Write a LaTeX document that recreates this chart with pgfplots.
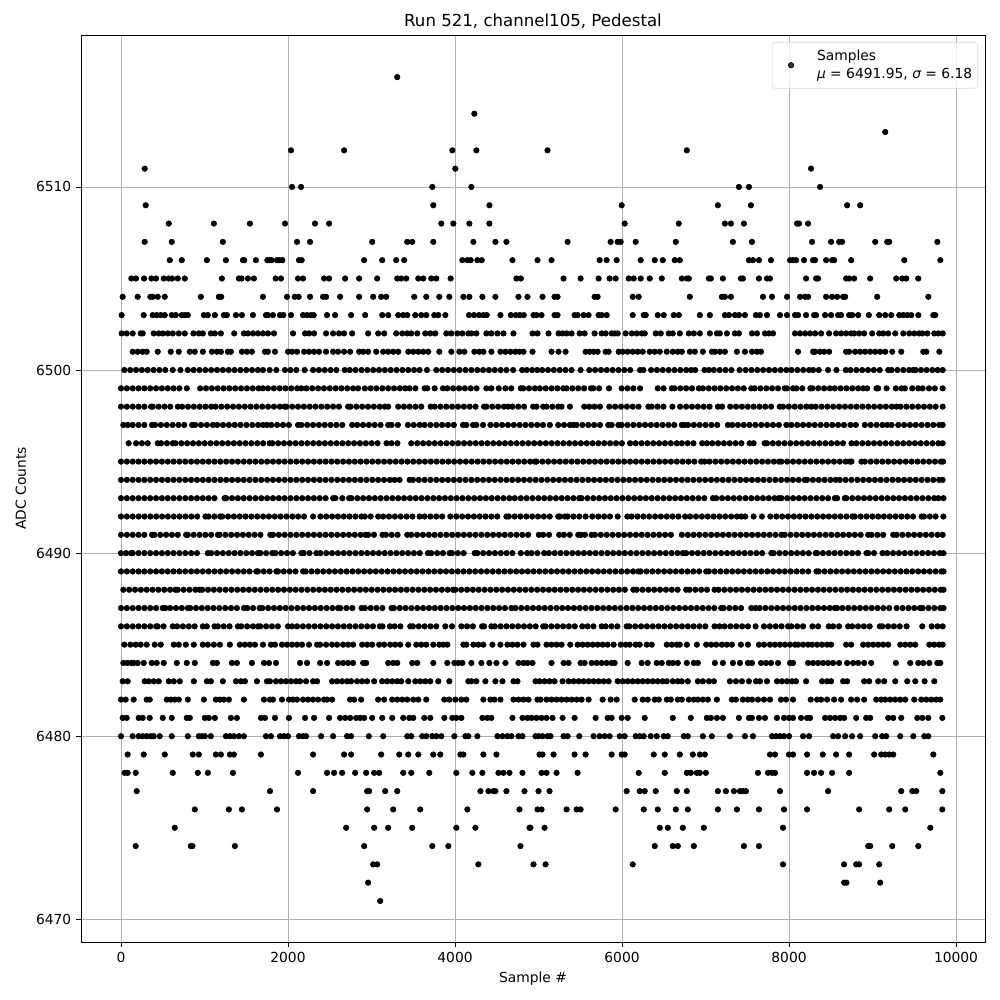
\documentclass[border=0pt]{standalone}
\usepackage{pgfplots}
\pgfplotsset{compat=1.18}
\usepackage{fontspec}
\setmainfont{DejaVu Sans}
\begin{document}
\begin{tikzpicture}
\path[use as bounding box] (-58.32bp,-41.76bp) rectangle (661.68bp,678.24bp);
\begin{axis}[
  at={(0,0)},anchor=south west,scale only axis,width=650.88bp,height=653.04bp,
  xmin=-479,xmax=10347,ymin=6468.76,ymax=6518.3,
  xtick={0,2000,4000,6000,8000,10000},ytick={6470,6480,6490,6500,6510},
  scaled x ticks=false,scaled y ticks=false,
  /pgf/number format/1000 sep={},/pgf/number format/assume math mode=true,
  tick align=outside,tick pos=lower,major tick length=3.5bp,
  tick style={black,line width=0.6bp},axis line style={line width=0.6bp},
  grid=major,grid style={color=black!31,line width=0.6bp},
  tick label style={font=\fontsize{10}{12}\selectfont},
  label style={font=\fontsize{10}{12}\selectfont},
  title style={font=\fontsize{12}{14}\selectfont,yshift=-5bp},
  title={Run 521, channel105, Pedestal},
  xlabel={Sample \#},ylabel={ADC Counts},
  xlabel style={yshift=0bp},ylabel style={yshift=0.4bp},
  legend cell align=left,
  legend image code/.code={\fill[black] (11.5bp,0) circle (2bp);\path (0,0) (28bp,0);},
  legend style={at={(0.9923,0.9923)},anchor=north east,draw=black!15,fill=white,fill opacity=0.8,text opacity=1,rounded corners=2bp,font=\fontsize{10}{12}\selectfont,inner xsep=2bp,inner ysep=3.8bp},
]
\addplot[only marks,mark=*,mark size=2bp,mark options={fill=black,draw=none}] table[x index=0,y index=1] {
3308 6516
4232 6514
9152 6513
2036 6512
2672 6512
3968 6512
4256 6512
5108 6512
6776 6512
284 6511
4004 6511
8264 6511
2048 6510
2156 6510
3728 6510
4196 6510
7400 6510
7520 6510
8372 6510
296 6509
3740 6509
4412 6509
5996 6509
7148 6509
7544 6509
8696 6509
8852 6509
572 6508
1112 6508
1544 6508
1964 6508
2324 6508
2492 6508
3836 6508
3980 6508
4172 6508
4412 6508
6032 6508
6680 6508
7232 6508
7304 6508
7460 6508
8096 6508
8120 6508
8228 6508
284 6507
608 6507
1220 6507
2108 6507
2264 6507
3008 6507
3428 6507
3488 6507
3740 6507
4220 6507
4484 6507
4616 6507
5348 6507
5864 6507
5948 6507
5984 6507
6164 6507
6644 6507
7328 6507
7556 6507
8276 6507
8504 6507
8600 6507
8636 6507
9032 6507
9176 6507
9200 6507
9776 6507
584 6506
728 6506
1028 6506
1256 6506
1460 6506
1476 6506
1616 6506
1752 6506
1780 6506
1804 6506
1868 6506
1900 6506
1932 6506
2132 6506
2164 6506
2912 6506
3128 6506
3296 6506
3392 6506
4088 6506
4148 6506
4188 6506
4268 6506
4320 6506
4688 6506
4988 6506
5156 6506
5732 6506
5816 6506
5936 6506
6224 6506
6392 6506
6488 6506
6632 6506
6692 6506
7520 6506
7568 6506
7640 6506
7784 6506
8012 6506
8048 6506
8084 6506
8180 6506
8288 6506
8312 6506
8444 6506
8516 6506
8540 6506
8744 6506
9380 6506
9812 6506
124 6505
180 6505
276 6505
364 6505
420 6505
512 6505
572 6505
612 6505
680 6505
764 6505
1208 6505
1412 6505
1444 6505
1520 6505
1592 6505
1852 6505
1916 6505
2120 6505
2180 6505
2432 6505
2492 6505
2684 6505
2852 6505
3068 6505
3308 6505
3356 6505
3416 6505
3560 6505
3620 6505
3716 6505
3776 6505
3948 6505
4736 6505
4788 6505
5300 6505
5504 6505
5720 6505
5852 6505
5924 6505
6080 6505
6140 6505
6224 6505
6332 6505
6476 6505
6716 6505
6776 6505
6800 6505
7040 6505
7064 6505
7208 6505
7424 6505
7448 6505
7640 6505
7736 6505
7772 6505
8204 6505
8324 6505
8348 6505
8684 6505
8720 6505
8780 6505
8972 6505
9284 6505
9356 6505
9404 6505
9548 6505
20 6504
200 6504
352 6504
380 6504
440 6504
524 6504
956 6504
1172 6504
1200 6504
1700 6504
1988 6504
2080 6504
2128 6504
2264 6504
2420 6504
2456 6504
2624 6504
2852 6504
3020 6504
3116 6504
3176 6504
3512 6504
3656 6504
3812 6504
3932 6504
4100 6504
4172 6504
4328 6504
4484 6504
4760 6504
4868 6504
5048 6504
5192 6504
5228 6504
5672 6504
5708 6504
6128 6504
6200 6504
6812 6504
7196 6504
7232 6504
7304 6504
7688 6504
7796 6504
7976 6504
8132 6504
8192 6504
8228 6504
8444 6504
8516 6504
8576 6504
8648 6504
8672 6504
9056 6504
9668 6504
8 6503
272 6503
380 6503
428 6503
476 6503
524 6503
608 6503
656 6503
728 6503
764 6503
800 6503
992 6503
1040 6503
1124 6503
1232 6503
1268 6503
1376 6503
1448 6503
1580 6503
1736 6503
1760 6503
1820 6503
1904 6503
1944 6503
2036 6503
2180 6503
2228 6503
2276 6503
2308 6503
2468 6503
2564 6503
2756 6503
2924 6503
3128 6503
3200 6503
3320 6503
3380 6503
3428 6503
3524 6503
3596 6503
3656 6503
3752 6503
3800 6503
3884 6503
4168 6503
4228 6503
4288 6503
4340 6503
4380 6503
4544 6503
4668 6503
4728 6503
4776 6503
4824 6503
4940 6503
4976 6503
5036 6503
5192 6503
5228 6503
5432 6503
5468 6503
5540 6503
5600 6503
5720 6503
5756 6503
5816 6503
6128 6503
6260 6503
6284 6503
6428 6503
6500 6503
6620 6503
6680 6503
6932 6503
7052 6503
7232 6503
7280 6503
7352 6503
7400 6503
7472 6503
7604 6503
7652 6503
7736 6503
7892 6503
7976 6503
8072 6503
8108 6503
8204 6503
8300 6503
8324 6503
8432 6503
8504 6503
8588 6503
8624 6503
8720 6503
8756 6503
8828 6503
8956 6503
9080 6503
9152 6503
9224 6503
9320 6503
9368 6503
9416 6503
9464 6503
9548 6503
9728 6503
9752 6503
8 6502
68 6502
140 6502
236 6502
260 6502
392 6502
452 6502
500 6502
560 6502
620 6502
692 6502
764 6502
868 6502
932 6502
980 6502
1076 6502
1124 6502
1196 6502
1356 6502
1472 6502
1520 6502
1580 6502
1640 6502
1700 6502
1760 6502
1832 6502
2060 6502
2204 6502
2252 6502
2312 6502
2456 6502
2540 6502
2612 6502
2672 6502
2768 6502
2960 6502
3080 6502
3152 6502
3296 6502
3368 6502
3428 6502
3476 6502
3548 6502
3644 6502
3704 6502
3764 6502
3896 6502
3956 6502
4028 6502
4088 6502
4160 6502
4196 6502
4256 6502
4376 6502
4436 6502
4508 6502
4580 6502
4700 6502
4928 6502
4988 6502
5120 6502
5240 6502
5288 6502
5336 6502
5396 6502
5492 6502
5552 6502
5672 6502
5756 6502
5804 6502
5876 6502
5912 6502
5948 6502
6044 6502
6116 6502
6176 6502
6236 6502
6272 6502
6404 6502
6464 6502
6560 6502
6608 6502
6692 6502
6800 6502
6860 6502
6932 6502
7052 6502
7136 6502
7172 6502
7256 6502
7352 6502
7400 6502
7556 6502
7616 6502
7712 6502
7760 6502
7808 6502
8072 6502
8132 6502
8192 6502
8252 6502
8312 6502
8384 6502
8480 6502
8564 6502
8624 6502
8684 6502
8744 6502
8780 6502
8840 6502
8900 6502
8996 6502
9080 6502
9128 6502
9188 6502
9272 6502
9368 6502
9440 6502
9500 6502
9560 6502
9596 6502
9656 6502
9740 6502
9788 6502
9840 6502
140 6501
200 6501
260 6501
308 6501
440 6501
596 6501
692 6501
824 6501
884 6501
980 6501
1088 6501
1148 6501
1196 6501
1280 6501
1316 6501
1448 6501
1508 6501
1568 6501
1724 6501
1760 6501
1844 6501
2000 6501
2048 6501
2108 6501
2192 6501
2252 6501
2312 6501
2372 6501
2456 6501
2540 6501
2600 6501
2672 6501
2744 6501
2852 6501
2900 6501
2960 6501
3056 6501
3140 6501
3200 6501
3260 6501
3320 6501
3440 6501
3500 6501
3560 6501
3620 6501
3680 6501
3812 6501
3956 6501
4052 6501
4112 6501
4232 6501
4292 6501
4340 6501
4436 6501
4544 6501
4604 6501
4664 6501
4724 6501
4772 6501
4820 6501
4928 6501
5156 6501
5240 6501
5324 6501
5564 6501
5612 6501
5660 6501
5708 6501
5804 6501
5840 6501
5960 6501
6008 6501
6068 6501
6128 6501
6188 6501
6248 6501
6332 6501
6392 6501
6452 6501
6536 6501
6608 6501
6668 6501
6716 6501
6812 6501
6872 6501
6968 6501
7076 6501
7112 6501
7172 6501
7232 6501
7376 6501
7472 6501
7556 6501
7616 6501
7664 6501
8108 6501
8288 6501
8312 6501
8372 6501
8420 6501
8480 6501
8684 6501
8720 6501
8792 6501
8852 6501
8912 6501
8972 6501
9032 6501
9092 6501
9152 6501
9236 6501
9344 6501
9608 6501
9644 6501
9800 6501
3104 6471
2960 6472
8660 6472
8688 6472
9092 6472
3020 6473
3068 6473
4280 6473
4940 6473
5084 6473
6128 6473
7928 6473
8660 6473
8804 6473
8840 6473
9080 6473
176 6474
836 6474
856 6474
1364 6474
2912 6474
3728 6474
3920 6474
4784 6474
6392 6474
6608 6474
6668 6474
6860 6474
7460 6474
7640 6474
8948 6474
8972 6474
9236 6474
9548 6474
644 6475
2696 6475
3032 6475
3200 6475
3488 6475
4016 6475
4244 6475
4892 6475
4904 6475
5072 6475
6452 6475
6548 6475
6728 6475
6980 6475
7928 6475
9692 6475
884 6476
1292 6476
1448 6476
1868 6476
2948 6476
3260 6476
3584 6476
4148 6476
4772 6476
4988 6476
5036 6476
5336 6476
5456 6476
5504 6476
5924 6476
6260 6476
6428 6476
6644 6476
6788 6476
7148 6476
7376 6476
7640 6476
7940 6476
8216 6476
8840 6476
9200 6476
9392 6476
9836 6476
188 6477
1784 6477
2300 6477
2948 6477
2972 6477
3164 6477
3308 6477
4304 6477
4400 6477
4460 6477
4484 6477
4616 6477
4832 6477
5000 6477
5132 6477
6056 6477
6212 6477
6272 6477
6404 6477
6656 6477
6776 6477
7148 6477
7244 6477
7340 6477
7412 6477
7448 6477
7484 6477
7892 6477
8468 6477
9344 6477
9476 6477
9524 6477
9836 6477
44 6478
80 6478
176 6478
620 6478
920 6478
1040 6478
1340 6478
2120 6478
2468 6478
2552 6478
2648 6478
2804 6478
2936 6478
3032 6478
3092 6478
3380 6478
3476 6478
3692 6478
4016 6478
4208 6478
4328 6478
4520 6478
4580 6478
4652 6478
4808 6478
5036 6478
5096 6478
5216 6478
5468 6478
6200 6478
6512 6478
6776 6478
6824 6478
6896 6478
6932 6478
7004 6478
7628 6478
7748 6478
7796 6478
7832 6478
8216 6478
8300 6478
8384 6478
8516 6478
8720 6478
9812 6478
80 6479
272 6479
524 6479
860 6479
932 6479
1136 6479
1196 6479
1304 6479
1352 6479
1676 6479
2300 6479
2672 6479
2756 6479
3116 6479
3332 6479
3440 6479
3560 6479
3740 6479
3824 6479
4064 6479
4100 6479
4340 6479
4496 6479
5012 6479
5048 6479
5180 6479
5432 6479
5564 6479
5876 6479
5996 6479
6032 6479
6380 6479
6512 6479
6692 6479
6848 6479
6932 6479
6992 6479
7772 6479
7832 6479
8000 6479
8048 6479
8216 6479
8404 6479
8564 6479
8720 6479
9020 6479
9104 6479
9152 6479
9200 6479
9248 6479
9728 6479
0 6480
140 6480
212 6480
260 6480
308 6480
356 6480
392 6480
464 6480
608 6480
800 6480
932 6480
968 6480
1004 6480
1076 6480
1256 6480
1304 6480
1352 6480
1412 6480
1472 6480
1736 6480
1796 6480
1904 6480
1952 6480
2000 6480
2132 6480
2180 6480
2216 6480
2396 6480
2540 6480
2708 6480
2756 6480
2968 6480
3140 6480
3428 6480
3476 6480
3608 6480
3656 6480
3728 6480
3776 6480
3836 6480
3992 6480
4124 6480
4160 6480
4268 6480
4508 6480
4568 6480
4628 6480
4676 6480
4760 6480
4808 6480
4964 6480
5000 6480
5048 6480
5108 6480
5144 6480
5300 6480
5348 6480
5488 6480
5660 6480
5732 6480
5792 6480
5852 6480
5972 6480
6032 6480
6164 6480
6212 6480
6260 6480
6344 6480
6416 6480
6500 6480
6548 6480
6740 6480
6788 6480
6968 6480
7076 6480
7292 6480
7472 6480
7568 6480
7796 6480
7844 6480
7892 6480
7940 6480
8000 6480
8168 6480
8240 6480
8528 6480
8588 6480
8672 6480
8756 6480
8852 6480
9032 6480
9116 6480
9164 6480
9332 6480
9488 6480
9620 6480
9668 6480
20 6481
68 6481
212 6481
260 6481
344 6481
500 6481
608 6481
788 6481
824 6481
1004 6481
1052 6481
1124 6481
1316 6481
1388 6481
1676 6481
1724 6481
1844 6481
2012 6481
2204 6481
2312 6481
2492 6481
2624 6481
2684 6481
2744 6481
2816 6481
2864 6481
2912 6481
3008 6481
3128 6481
3248 6481
3380 6481
3452 6481
3500 6481
3632 6481
3704 6481
3872 6481
3968 6481
4016 6481
4076 6481
4328 6481
4388 6481
4436 6481
4688 6481
4808 6481
4868 6481
4916 6481
4976 6481
5036 6481
5096 6481
5168 6481
5288 6481
5432 6481
5684 6481
5828 6481
5876 6481
5996 6481
6068 6481
6272 6481
6608 6481
6824 6481
7016 6481
7064 6481
7136 6481
7208 6481
7400 6481
7520 6481
7556 6481
7640 6481
7712 6481
7856 6481
7940 6481
8000 6481
8048 6481
8144 6481
8216 6481
8252 6481
8432 6481
8492 6481
8552 6481
8612 6481
8660 6481
8804 6481
8924 6481
8972 6481
9188 6481
9248 6481
9344 6481
9536 6481
9596 6481
9668 6481
9836 6481
0 6482
56 6482
152 6482
308 6482
344 6482
548 6482
596 6482
644 6482
692 6482
800 6482
992 6482
1136 6482
1184 6482
1232 6482
1292 6482
1472 6482
1712 6482
1784 6482
1820 6482
1928 6482
2012 6482
2060 6482
2108 6482
2180 6482
2240 6482
2300 6482
2360 6482
2432 6482
2468 6482
2528 6482
2744 6482
2792 6482
2876 6482
3080 6482
3152 6482
3248 6482
3308 6482
3368 6482
3428 6482
3500 6482
3560 6482
3656 6482
3872 6482
3932 6482
4004 6482
4076 6482
4136 6482
4340 6482
4424 6482
4472 6482
4544 6482
4700 6482
4760 6482
4820 6482
4880 6482
4988 6482
5024 6482
5096 6482
5156 6482
5216 6482
5276 6482
5336 6482
5396 6482
5456 6482
5516 6482
5600 6482
5768 6482
5864 6482
5936 6482
6152 6482
6248 6482
6308 6482
6392 6482
6440 6482
6536 6482
6584 6482
6668 6482
6716 6482
6800 6482
6860 6482
6908 6482
6968 6482
7028 6482
7136 6482
7316 6482
7364 6482
7448 6482
7508 6482
7556 6482
7628 6482
7700 6482
7772 6482
7904 6482
7964 6482
8048 6482
8260 6482
8336 6482
8384 6482
8456 6482
8540 6482
8624 6482
8744 6482
8816 6482
8900 6482
9044 6482
9104 6482
9152 6482
9212 6482
9272 6482
9332 6482
9392 6482
9500 6482
9584 6482
9644 6482
9704 6482
9764 6482
9812 6482
20 6483
80 6483
284 6483
332 6483
392 6483
452 6483
572 6483
632 6483
704 6483
872 6483
1028 6483
1076 6483
1220 6483
1376 6483
1436 6483
1484 6483
1628 6483
1748 6483
1784 6483
1856 6483
1916 6483
1976 6483
2036 6483
2096 6483
2144 6483
2216 6483
2300 6483
2348 6483
2528 6483
2588 6483
2648 6483
2708 6483
2756 6483
2828 6483
2888 6483
2948 6483
3032 6483
3128 6483
3188 6483
3248 6483
3308 6483
3356 6483
3440 6483
3524 6483
3584 6483
3644 6483
3704 6483
3800 6483
3932 6483
4160 6483
4196 6483
4256 6483
4364 6483
4484 6483
4568 6483
4700 6483
4748 6483
4964 6483
5012 6483
5072 6483
5132 6483
5192 6483
5288 6483
5360 6483
5420 6483
5480 6483
5540 6483
5600 6483
5660 6483
5720 6483
5780 6483
5840 6483
5948 6483
6008 6483
6068 6483
6128 6483
6188 6483
6248 6483
6308 6483
6368 6483
6428 6483
6488 6483
6536 6483
6608 6483
6668 6483
6716 6483
6788 6483
6908 6483
6968 6483
7040 6483
7100 6483
7292 6483
7364 6483
7436 6483
7520 6483
7604 6483
7652 6483
7736 6483
7856 6483
7916 6483
7976 6483
8036 6483
8084 6483
8204 6483
8396 6483
8456 6483
8504 6483
8648 6483
8696 6483
8900 6483
8960 6483
9068 6483
9140 6483
9272 6483
9416 6483
9512 6483
9624 6483
9740 6483
28 6484
76 6484
124 6484
152 6484
200 6484
272 6484
368 6484
428 6484
512 6484
668 6484
788 6484
884 6484
1100 6484
1148 6484
1328 6484
1388 6484
1568 6484
1712 6484
1772 6484
1856 6484
2144 6484
2228 6484
2384 6484
2468 6484
2600 6484
2660 6484
2720 6484
2780 6484
2900 6484
2936 6484
3200 6484
3260 6484
3308 6484
3488 6484
3548 6484
3740 6484
3908 6484
3992 6484
4040 6484
4088 6484
4196 6484
4316 6484
4412 6484
4496 6484
4604 6484
4760 6484
4820 6484
4868 6484
4928 6484
5156 6484
5300 6484
5360 6484
5504 6484
5552 6484
5636 6484
5696 6484
5756 6484
5816 6484
5876 6484
5912 6484
6068 6484
6236 6484
6308 6484
6416 6484
6476 6484
6560 6484
6608 6484
6668 6484
6776 6484
6860 6484
6908 6484
7112 6484
7208 6484
7328 6484
7412 6484
7508 6484
7556 6484
7664 6484
7724 6484
7784 6484
7868 6484
8012 6484
8048 6484
8228 6484
8288 6484
8348 6484
8408 6484
8468 6484
8528 6484
8600 6484
8696 6484
8768 6484
8828 6484
8900 6484
8984 6484
9280 6484
9452 6484
9548 6484
9608 6484
9680 6484
9776 6484
9812 6484
40 6485
112 6485
176 6485
236 6485
308 6485
404 6485
476 6485
632 6485
692 6485
776 6485
872 6485
980 6485
1040 6485
1112 6485
1184 6485
1304 6485
1424 6485
1484 6485
1544 6485
1604 6485
1700 6485
1796 6485
1844 6485
1928 6485
1988 6485
2048 6485
2108 6485
2168 6485
2252 6485
2348 6485
2384 6485
2456 6485
2528 6485
2588 6485
2660 6485
2720 6485
2780 6485
2888 6485
2948 6485
3008 6485
3092 6485
3152 6485
3224 6485
3284 6485
3344 6485
3440 6485
3536 6485
3596 6485
3656 6485
3740 6485
3812 6485
3860 6485
3908 6485
4100 6485
4136 6485
4220 6485
4280 6485
4340 6485
4448 6485
4544 6485
4628 6485
4688 6485
4748 6485
4820 6485
4940 6485
4988 6485
5096 6485
5156 6485
5216 6485
5276 6485
5380 6485
5468 6485
5528 6485
5588 6485
5648 6485
5708 6485
5768 6485
5828 6485
5900 6485
5984 6485
6044 6485
6092 6485
6164 6485
6212 6485
6296 6485
6356 6485
6536 6485
6596 6485
6656 6485
6692 6485
6776 6485
6896 6485
7008 6485
7068 6485
7128 6485
7196 6485
7256 6485
7316 6485
7424 6485
7508 6485
7640 6485
7700 6485
7772 6485
7832 6485
7892 6485
7952 6485
8012 6485
8072 6485
8108 6485
8168 6485
8228 6485
8276 6485
8336 6485
8396 6485
8456 6485
8504 6485
8684 6485
8744 6485
8888 6485
8948 6485
9008 6485
9068 6485
9128 6485
9188 6485
9332 6485
9392 6485
9452 6485
9512 6485
9680 6485
9740 6485
9800 6485
9840 6485
40 6500
110 6500
180 6500
250 6500
320 6500
390 6500
460 6500
530 6500
620 6500
712 6500
800 6500
870 6500
940 6500
1010 6500
1080 6500
1150 6500
1220 6500
1290 6500
1360 6500
1430 6500
1500 6500
1570 6500
1640 6500
1700 6500
1780 6500
1860 6500
1964 6500
2030 6500
2100 6500
2200 6500
2300 6500
2370 6500
2440 6500
2510 6500
2580 6500
2680 6500
2740 6500
2810 6500
2880 6500
2950 6500
3020 6500
3090 6500
3160 6500
3230 6500
3300 6500
3370 6500
3440 6500
3510 6500
3576 6500
3664 6500
3776 6500
3846 6500
3916 6500
3986 6500
4056 6500
4126 6500
4196 6500
4266 6500
4336 6500
4406 6500
4476 6500
4546 6500
4616 6500
4696 6500
4804 6500
4860 6500
4924 6500
4984 6500
5044 6500
5114 6500
5184 6500
5254 6500
5324 6500
5396 6500
5504 6500
5608 6500
5678 6500
5748 6500
5818 6500
5888 6500
5958 6500
6028 6500
6098 6500
6216 6500
6256 6500
6348 6500
6418 6500
6488 6500
6558 6500
6628 6500
6698 6500
6768 6500
6828 6500
6876 6500
6988 6500
7040 6500
7100 6500
7170 6500
7240 6500
7310 6500
7408 6500
7480 6500
7550 6500
7620 6500
7690 6500
7760 6500
7830 6500
7900 6500
7968 6500
8030 6500
8100 6500
8170 6500
8240 6500
8288 6500
8356 6500
8468 6500
8568 6500
8680 6500
8736 6500
8806 6500
8876 6500
8946 6500
9016 6500
9086 6500
9188 6500
9228 6500
9298 6500
9368 6500
9438 6500
9488 6500
9516 6500
9580 6500
9648 6500
9716 6500
9780 6500
9840 6500
0 6499
70 6499
140 6499
210 6499
280 6499
350 6499
420 6499
490 6499
560 6499
630 6499
700 6499
788 6499
948 6499
1018 6499
1088 6499
1158 6499
1228 6499
1298 6499
1368 6499
1438 6499
1508 6499
1578 6499
1648 6499
1700 6499
1760 6499
1830 6499
1900 6499
1970 6499
2040 6499
2110 6499
2160 6499
2220 6499
2290 6499
2360 6499
2430 6499
2500 6499
2570 6499
2640 6499
2710 6499
2780 6499
2840 6499
2920 6499
2990 6499
3060 6499
3130 6499
3200 6499
3270 6499
3340 6499
3404 6499
3456 6499
3526 6499
3636 6499
3668 6499
3756 6499
3856 6499
3908 6499
3978 6499
4048 6499
4118 6499
4188 6499
4258 6499
4376 6499
4436 6499
4524 6499
4604 6499
4674 6499
4788 6499
4816 6499
4886 6499
4956 6499
5016 6499
5086 6499
5156 6499
5226 6499
5296 6499
5336 6499
5406 6499
5476 6499
5546 6499
5628 6499
5656 6499
5726 6499
5844 6499
5996 6499
6066 6499
6136 6499
6216 6499
6428 6499
6498 6499
6596 6499
6628 6499
6698 6499
6768 6499
6838 6499
6920 6499
6968 6499
7038 6499
7108 6499
7178 6499
7248 6499
7318 6499
7388 6499
7458 6499
7548 6499
7588 6499
7658 6499
7728 6499
7798 6499
7868 6499
7948 6499
7976 6499
8048 6499
8088 6499
8158 6499
8256 6499
8280 6499
8350 6499
8420 6499
8488 6499
8548 6499
8618 6499
8688 6499
8758 6499
8828 6499
8888 6499
8936 6499
9048 6499
9068 6499
9168 6499
9280 6499
9348 6499
9388 6499
9476 6499
9548 6499
9600 6499
9676 6499
9746 6499
9840 6499
0 6498
70 6498
140 6498
210 6498
280 6498
360 6498
380 6498
450 6498
520 6498
590 6498
680 6498
732 6498
802 6498
872 6498
942 6498
1012 6498
1080 6498
1132 6498
1202 6498
1272 6498
1342 6498
1412 6498
1482 6498
1552 6498
1622 6498
1692 6498
1762 6498
1832 6498
1902 6498
1960 6498
1980 6498
2050 6498
2120 6498
2190 6498
2260 6498
2330 6498
2400 6498
2470 6498
2540 6498
2610 6498
2720 6498
2748 6498
2818 6498
2888 6498
2958 6498
3028 6498
3098 6498
3160 6498
3200 6498
3320 6498
3388 6498
3456 6498
3526 6498
3596 6498
3708 6498
3756 6498
3826 6498
3896 6498
3966 6498
4036 6498
4106 6498
4176 6498
4246 6498
4348 6498
4376 6498
4446 6498
4516 6498
4586 6498
4636 6498
4688 6498
4758 6498
4828 6498
4936 6498
4976 6498
5056 6498
5096 6498
5166 6498
5236 6498
5276 6498
5376 6498
5548 6498
5608 6498
5670 6498
5736 6498
5848 6498
5918 6498
5988 6498
6058 6498
6128 6498
6198 6498
6316 6498
6356 6498
6426 6498
6496 6498
6604 6498
6696 6498
6768 6498
6838 6498
6908 6498
6978 6498
7048 6498
7148 6498
7200 6498
7296 6498
7366 6498
7436 6498
7506 6498
7576 6498
7646 6498
7716 6498
7786 6498
7888 6498
7928 6498
7998 6498
8068 6498
8138 6498
8208 6498
8268 6498
8320 6498
8390 6498
8460 6498
8530 6498
8600 6498
8670 6498
8740 6498
8810 6498
8880 6498
8950 6498
9020 6498
9090 6498
9160 6498
9230 6498
9288 6498
9336 6498
9406 6498
9476 6498
9546 6498
9616 6498
9686 6498
9756 6498
9840 6498
28 6497
80 6497
140 6497
210 6497
280 6497
372 6497
408 6497
478 6497
548 6497
618 6497
688 6497
758 6497
852 6497
888 6497
958 6497
1028 6497
1100 6497
1152 6497
1222 6497
1292 6497
1362 6497
1432 6497
1502 6497
1572 6497
1642 6497
1700 6497
1748 6497
1800 6497
1870 6497
1940 6497
2010 6497
2120 6497
2160 6497
2230 6497
2300 6497
2370 6497
2440 6497
2510 6497
2580 6497
2650 6497
2768 6497
2828 6497
2898 6497
2968 6497
3038 6497
3108 6497
3200 6497
3240 6497
3316 6497
3436 6497
3506 6497
3576 6497
3636 6497
3706 6497
3776 6497
3846 6497
3916 6497
3986 6497
4096 6497
4136 6497
4216 6497
4256 6497
4336 6497
4424 6497
4494 6497
4564 6497
4634 6497
4704 6497
4774 6497
4844 6497
4914 6497
4984 6497
5054 6497
5136 6497
5236 6497
5306 6497
5376 6497
5416 6497
5456 6497
5526 6497
5596 6497
5666 6497
5736 6497
5836 6497
5876 6497
5956 6497
5996 6497
6066 6497
6136 6497
6206 6497
6276 6497
6346 6497
6416 6497
6486 6497
6556 6497
6626 6497
6716 6497
6748 6497
6790 6497
6860 6497
6930 6497
7000 6497
7070 6497
7140 6497
7268 6497
7320 6497
7388 6497
7458 6497
7528 6497
7598 6497
7668 6497
7738 6497
7808 6497
7878 6497
7968 6497
8028 6497
8098 6497
8168 6497
8238 6497
8308 6497
8378 6497
8448 6497
8518 6497
8588 6497
8658 6497
8736 6497
8800 6497
8908 6497
8978 6497
9048 6497
9118 6497
9176 6497
9228 6497
9308 6497
9378 6497
9448 6497
9518 6497
9588 6497
9658 6497
9728 6497
9798 6497
9840 6497
92 6496
180 6496
250 6496
320 6496
440 6496
480 6496
550 6496
620 6496
652 6496
722 6496
792 6496
862 6496
932 6496
1002 6496
1072 6496
1142 6496
1212 6496
1282 6496
1352 6496
1422 6496
1492 6496
1562 6496
1632 6496
1702 6496
1780 6496
1812 6496
1882 6496
1952 6496
2022 6496
2092 6496
2162 6496
2232 6496
2302 6496
2372 6496
2442 6496
2512 6496
2582 6496
2652 6496
2722 6496
2792 6496
2862 6496
2932 6496
3002 6496
3072 6496
3180 6496
3240 6496
3310 6496
3476 6496
3548 6496
3618 6496
3688 6496
3758 6496
3828 6496
3898 6496
3968 6496
4038 6496
4108 6496
4178 6496
4248 6496
4318 6496
4388 6496
4458 6496
4528 6496
4598 6496
4668 6496
4738 6496
4808 6496
4878 6496
4948 6496
5018 6496
5088 6496
5158 6496
5228 6496
5298 6496
5368 6496
5438 6496
5508 6496
5578 6496
5648 6496
5718 6496
5788 6496
5858 6496
5928 6496
5998 6496
6096 6496
6164 6496
6234 6496
6304 6496
6374 6496
6444 6496
6514 6496
6584 6496
6656 6496
6716 6496
6786 6496
6856 6496
6960 6496
7016 6496
7080 6496
7150 6496
7220 6496
7290 6496
7360 6496
7430 6496
7528 6496
7576 6496
7708 6496
7736 6496
7806 6496
7876 6496
7946 6496
8016 6496
8086 6496
8156 6496
8226 6496
8296 6496
8366 6496
8436 6496
8506 6496
8576 6496
8646 6496
8748 6496
8808 6496
8878 6496
8948 6496
9018 6496
9088 6496
9158 6496
9228 6496
9298 6496
9368 6496
9438 6496
9508 6496
9578 6496
9648 6496
9718 6496
9788 6496
9840 6496
0 6495
70 6495
140 6495
210 6495
280 6495
350 6495
420 6495
490 6495
560 6495
630 6495
700 6495
770 6495
840 6495
910 6495
980 6495
1050 6495
1120 6495
1190 6495
1260 6495
1330 6495
1400 6495
1470 6495
1540 6495
1610 6495
1680 6495
1750 6495
1820 6495
1890 6495
1960 6495
2030 6495
2100 6495
2170 6495
2240 6495
2310 6495
2380 6495
2450 6495
2520 6495
2590 6495
2660 6495
2730 6495
2800 6495
2870 6495
2940 6495
3010 6495
3080 6495
3150 6495
3220 6495
3290 6495
3360 6495
3430 6495
3500 6495
3570 6495
3640 6495
3710 6495
3780 6495
3850 6495
3920 6495
3990 6495
4060 6495
4130 6495
4200 6495
4270 6495
4340 6495
4410 6495
4480 6495
4550 6495
4620 6495
4690 6495
4760 6495
4830 6495
4900 6495
4956 6495
4976 6495
5046 6495
5116 6495
5186 6495
5256 6495
5326 6495
5396 6495
5466 6495
5536 6495
5606 6495
5676 6495
5746 6495
5816 6495
5886 6495
5956 6495
6026 6495
6096 6495
6166 6495
6236 6495
6306 6495
6376 6495
6446 6495
6516 6495
6586 6495
6656 6495
6726 6495
6796 6495
6866 6495
6948 6495
6988 6495
7048 6495
7118 6495
7188 6495
7258 6495
7328 6495
7398 6495
7468 6495
7538 6495
7608 6495
7678 6495
7748 6495
7818 6495
7880 6495
7908 6495
7978 6495
8048 6495
8118 6495
8188 6495
8258 6495
8328 6495
8398 6495
8468 6495
8538 6495
8608 6495
8678 6495
8728 6495
8748 6495
8868 6495
8908 6495
8978 6495
9048 6495
9118 6495
9188 6495
9258 6495
9328 6495
9398 6495
9468 6495
9538 6495
9608 6495
9678 6495
9748 6495
9818 6495
9845 6495
0 6494
70 6494
140 6494
210 6494
280 6494
350 6494
420 6494
490 6494
560 6494
630 6494
700 6494
770 6494
840 6494
910 6494
980 6494
1050 6494
1120 6494
1190 6494
1260 6494
1330 6494
1400 6494
1470 6494
1540 6494
1610 6494
1680 6494
1750 6494
1820 6494
1890 6494
1960 6494
2030 6494
2100 6494
2170 6494
2240 6494
2310 6494
2380 6494
2450 6494
2520 6494
2590 6494
2660 6494
2730 6494
2800 6494
2870 6494
2940 6494
3010 6494
3080 6494
3150 6494
3220 6494
3276 6494
3336 6494
3456 6494
3496 6494
3566 6494
3636 6494
3706 6494
3776 6494
3846 6494
3916 6494
3986 6494
4056 6494
4126 6494
4196 6494
4266 6494
4336 6494
4406 6494
4476 6494
4546 6494
4616 6494
4686 6494
4756 6494
4826 6494
4896 6494
4966 6494
5036 6494
5106 6494
5176 6494
5246 6494
5316 6494
5386 6494
5456 6494
5526 6494
5596 6494
5666 6494
5736 6494
5806 6494
5876 6494
5946 6494
6016 6494
6086 6494
6156 6494
6226 6494
6296 6494
6366 6494
6436 6494
6506 6494
6576 6494
6646 6494
6716 6494
6786 6494
6856 6494
6926 6494
6996 6494
7066 6494
7136 6494
7206 6494
7276 6494
7346 6494
7416 6494
7486 6494
7556 6494
7626 6494
7696 6494
7766 6494
7836 6494
7906 6494
7976 6494
8046 6494
8116 6494
8188 6494
8216 6494
8286 6494
8356 6494
8426 6494
8496 6494
8560 6494
8608 6494
8678 6494
8748 6494
8818 6494
8888 6494
8958 6494
9028 6494
9098 6494
9168 6494
9238 6494
9308 6494
9378 6494
9448 6494
9518 6494
9588 6494
9658 6494
9728 6494
9798 6494
9840 6494
0 6493
70 6493
140 6493
210 6493
280 6493
350 6493
420 6493
490 6493
560 6493
630 6493
700 6493
770 6493
840 6493
910 6493
980 6493
1050 6493
1120 6493
1240 6493
1260 6493
1330 6493
1400 6493
1470 6493
1540 6493
1610 6493
1680 6493
1750 6493
1820 6493
1890 6493
1960 6493
2030 6493
2100 6493
2170 6493
2240 6493
2310 6493
2380 6493
2450 6493
2540 6493
2568 6493
2650 6493
2732 6493
2760 6493
2830 6493
2900 6493
2970 6493
3040 6493
3110 6493
3180 6493
3250 6493
3320 6493
3390 6493
3460 6493
3530 6493
3600 6493
3670 6493
3740 6493
3810 6493
3880 6493
3950 6493
4020 6493
4090 6493
4160 6493
4230 6493
4300 6493
4370 6493
4440 6493
4510 6493
4580 6493
4650 6493
4716 6493
4788 6493
4858 6493
4928 6493
4998 6493
5068 6493
5138 6493
5208 6493
5278 6493
5348 6493
5418 6493
5488 6493
5516 6493
5586 6493
5656 6493
5726 6493
5796 6493
5866 6493
5936 6493
6006 6493
6076 6493
6146 6493
6216 6493
6286 6493
6356 6493
6426 6493
6496 6493
6566 6493
6636 6493
6706 6493
6776 6493
6846 6493
6916 6493
6986 6493
7088 6493
7128 6493
7198 6493
7268 6493
7338 6493
7408 6493
7478 6493
7548 6493
7618 6493
7688 6493
7758 6493
7828 6493
7880 6493
7908 6493
7978 6493
8048 6493
8118 6493
8188 6493
8258 6493
8328 6493
8398 6493
8468 6493
8548 6493
8576 6493
8668 6493
8688 6493
8758 6493
8828 6493
8898 6493
8968 6493
9038 6493
9108 6493
9178 6493
9248 6493
9318 6493
9388 6493
9458 6493
9528 6493
9598 6493
9668 6493
9738 6493
9788 6493
9850 6493
0 6492
70 6492
140 6492
212 6492
282 6492
352 6492
422 6492
492 6492
562 6492
632 6492
702 6492
772 6492
842 6492
912 6492
1012 6492
1048 6492
1118 6492
1188 6492
1212 6492
1282 6492
1352 6492
1422 6492
1492 6492
1562 6492
1632 6492
1702 6492
1772 6492
1842 6492
1912 6492
1982 6492
2052 6492
2122 6492
2192 6492
2300 6492
2388 6492
2458 6492
2528 6492
2598 6492
2668 6492
2738 6492
2808 6492
2880 6492
2920 6492
2990 6492
3080 6492
3140 6492
3210 6492
3280 6492
3350 6492
3420 6492
3490 6492
3576 6492
3636 6492
3706 6492
3776 6492
3846 6492
3944 6492
4016 6492
4086 6492
4156 6492
4226 6492
4296 6492
4366 6492
4436 6492
4506 6492
4616 6492
4644 6492
4714 6492
4784 6492
4854 6492
4924 6492
4994 6492
5064 6492
5134 6492
5236 6492
5256 6492
5316 6492
5348 6492
5418 6492
5488 6492
5564 6492
5644 6492
5716 6492
5786 6492
5856 6492
5948 6492
6064 6492
6116 6492
6186 6492
6256 6492
6326 6492
6396 6492
6466 6492
6536 6492
6606 6492
6676 6492
6756 6492
6816 6492
6886 6492
6956 6492
7026 6492
7096 6492
7166 6492
7236 6492
7306 6492
7376 6492
7428 6492
7476 6492
7576 6492
7676 6492
7776 6492
7848 6492
7918 6492
7988 6492
8058 6492
8128 6492
8198 6492
8268 6492
8338 6492
8408 6492
8478 6492
8548 6492
8618 6492
8688 6492
8760 6492
8788 6492
8858 6492
8928 6492
8998 6492
9068 6492
9136 6492
9206 6492
9276 6492
9346 6492
9416 6492
9486 6492
9588 6492
9616 6492
9686 6492
9756 6492
9848 6492
0 6491
70 6491
140 6491
210 6491
280 6491
372 6491
400 6491
470 6491
540 6491
610 6491
680 6491
780 6491
800 6491
870 6491
940 6491
1010 6491
1080 6491
1160 6491
1180 6491
1250 6491
1320 6491
1390 6491
1460 6491
1530 6491
1600 6491
1670 6491
1788 6491
1820 6491
1890 6491
1960 6491
2030 6491
2100 6491
2170 6491
2240 6491
2310 6491
2380 6491
2450 6491
2520 6491
2590 6491
2660 6491
2730 6491
2800 6491
2870 6491
2928 6491
2960 6491
3030 6491
3132 6491
3172 6491
3242 6491
3312 6491
3428 6491
3476 6491
3546 6491
3616 6491
3686 6491
3756 6491
3826 6491
3896 6491
3966 6491
4036 6491
4106 6491
4176 6491
4246 6491
4316 6491
4386 6491
4456 6491
4526 6491
4596 6491
4666 6491
4736 6491
4806 6491
4876 6491
5004 6491
5056 6491
5126 6491
5248 6491
5304 6491
5374 6491
5476 6491
5508 6491
5556 6491
5636 6491
5676 6491
5746 6491
5816 6491
5886 6491
5956 6491
6026 6491
6096 6491
6166 6491
6236 6491
6306 6491
6376 6491
6446 6491
6516 6491
6586 6491
6716 6491
6788 6491
6858 6491
6928 6491
6998 6491
7068 6491
7138 6491
7208 6491
7278 6491
7348 6491
7418 6491
7488 6491
7558 6491
7628 6491
7698 6491
7768 6491
7838 6491
7908 6491
7948 6491
8018 6491
8088 6491
8158 6491
8228 6491
8298 6491
8368 6491
8438 6491
8508 6491
8578 6491
8648 6491
8718 6491
8788 6491
8858 6491
8948 6491
8988 6491
9058 6491
9128 6491
9248 6491
9288 6491
9358 6491
9428 6491
9498 6491
9568 6491
9638 6491
9708 6491
9778 6491
9840 6491
0 6490
60 6490
120 6490
140 6490
210 6490
280 6490
350 6490
420 6490
490 6490
560 6490
630 6490
700 6490
770 6490
840 6490
910 6490
1040 6490
1080 6490
1150 6490
1220 6490
1290 6490
1360 6490
1430 6490
1500 6490
1570 6490
1640 6490
1668 6490
1738 6490
1812 6490
1848 6490
1918 6490
1988 6490
2058 6490
2160 6490
2188 6490
2258 6490
2340 6490
2388 6490
2458 6490
2528 6490
2598 6490
2668 6490
2738 6490
2808 6490
2878 6490
2948 6490
3018 6490
3088 6490
3158 6490
3228 6490
3298 6490
3368 6490
3438 6490
3508 6490
3578 6490
3676 6490
3716 6490
3786 6490
3856 6490
3936 6490
3964 6490
4034 6490
4104 6490
4236 6490
4268 6490
4338 6490
4408 6490
4478 6490
4548 6490
4618 6490
4688 6490
4788 6490
4864 6490
4916 6490
4986 6490
5068 6490
5124 6490
5194 6490
5264 6490
5334 6490
5404 6490
5474 6490
5544 6490
5614 6490
5684 6490
5754 6490
5824 6490
5894 6490
5964 6490
6034 6490
6104 6490
6174 6490
6244 6490
6314 6490
6384 6490
6454 6490
6524 6490
6594 6490
6664 6490
6728 6490
6768 6490
6838 6490
6908 6490
6978 6490
7048 6490
7118 6490
7188 6490
7258 6490
7328 6490
7398 6490
7468 6490
7538 6490
7608 6490
7678 6490
7788 6490
7816 6490
7886 6490
7956 6490
8026 6490
8096 6490
8166 6490
8236 6490
8320 6490
8336 6490
8406 6490
8476 6490
8546 6490
8616 6490
8686 6490
8756 6490
8826 6490
8928 6490
8948 6490
9018 6490
9120 6490
9176 6490
9246 6490
9316 6490
9386 6490
9456 6490
9526 6490
9596 6490
9666 6490
9736 6490
9806 6490
9850 6490
0 6489
70 6489
140 6489
210 6489
280 6489
350 6489
420 6489
490 6489
560 6489
630 6489
700 6489
770 6489
840 6489
910 6489
980 6489
1050 6489
1120 6489
1190 6489
1260 6489
1330 6489
1400 6489
1470 6489
1540 6489
1620 6489
1640 6489
1710 6489
1780 6489
1860 6489
1880 6489
1950 6489
2020 6489
2090 6489
2180 6489
2212 6489
2282 6489
2352 6489
2422 6489
2492 6489
2562 6489
2632 6489
2702 6489
2772 6489
2842 6489
2912 6489
2982 6489
3052 6489
3122 6489
3192 6489
3262 6489
3332 6489
3402 6489
3472 6489
3542 6489
3612 6489
3682 6489
3752 6489
3822 6489
3892 6489
3962 6489
4032 6489
4102 6489
4172 6489
4242 6489
4312 6489
4382 6489
4452 6489
4522 6489
4592 6489
4662 6489
4732 6489
4802 6489
4872 6489
4942 6489
5012 6489
5082 6489
5152 6489
5222 6489
5292 6489
5362 6489
5432 6489
5502 6489
5572 6489
5642 6489
5712 6489
5782 6489
5852 6489
5922 6489
5992 6489
6062 6489
6132 6489
6196 6489
6224 6489
6294 6489
6364 6489
6434 6489
6504 6489
6574 6489
6644 6489
6714 6489
6784 6489
6854 6489
6924 6489
7008 6489
7040 6489
7110 6489
7180 6489
7250 6489
7320 6489
7390 6489
7460 6489
7530 6489
7600 6489
7670 6489
7740 6489
7810 6489
7880 6489
7950 6489
8020 6489
8090 6489
8160 6489
8230 6489
8328 6489
8356 6489
8426 6489
8496 6489
8566 6489
8636 6489
8706 6489
8776 6489
8846 6489
8916 6489
8986 6489
9056 6489
9126 6489
9196 6489
9266 6489
9336 6489
9406 6489
9476 6489
9546 6489
9616 6489
9686 6489
9756 6489
9826 6489
9850 6489
28 6488
98 6488
168 6488
238 6488
308 6488
378 6488
448 6488
518 6488
588 6488
652 6488
680 6488
750 6488
820 6488
890 6488
940 6488
972 6488
1042 6488
1112 6488
1182 6488
1252 6488
1322 6488
1392 6488
1462 6488
1532 6488
1602 6488
1672 6488
1742 6488
1812 6488
1882 6488
1952 6488
2022 6488
2092 6488
2162 6488
2232 6488
2302 6488
2372 6488
2442 6488
2512 6488
2582 6488
2652 6488
2722 6488
2792 6488
2862 6488
2932 6488
3002 6488
3072 6488
3142 6488
3212 6488
3282 6488
3352 6488
3422 6488
3492 6488
3562 6488
3632 6488
3702 6488
3772 6488
3842 6488
3912 6488
3976 6488
4004 6488
4074 6488
4144 6488
4214 6488
4284 6488
4354 6488
4424 6488
4494 6488
4564 6488
4634 6488
4704 6488
4774 6488
4844 6488
4914 6488
4984 6488
5054 6488
5124 6488
5194 6488
5264 6488
5334 6488
5404 6488
5474 6488
5544 6488
5614 6488
5684 6488
5754 6488
5824 6488
5894 6488
5964 6488
6034 6488
6136 6488
6176 6488
6246 6488
6316 6488
6386 6488
6456 6488
6526 6488
6596 6488
6666 6488
6768 6488
6808 6488
6878 6488
6948 6488
7018 6488
7108 6488
7156 6488
7226 6488
7296 6488
7366 6488
7436 6488
7506 6488
7576 6488
7646 6488
7716 6488
7786 6488
7856 6488
7926 6488
7996 6488
8066 6488
8136 6488
8206 6488
8276 6488
8346 6488
8416 6488
8486 6488
8556 6488
8626 6488
8696 6488
8766 6488
8836 6488
8906 6488
8976 6488
9046 6488
9116 6488
9186 6488
9256 6488
9326 6488
9396 6488
9466 6488
9536 6488
9606 6488
9676 6488
9746 6488
9816 6488
9850 6488
0 6487
70 6487
140 6487
210 6487
280 6487
350 6487
420 6487
500 6487
532 6487
588 6487
658 6487
728 6487
800 6487
828 6487
898 6487
968 6487
1038 6487
1108 6487
1178 6487
1248 6487
1318 6487
1388 6487
1472 6487
1512 6487
1582 6487
1660 6487
1692 6487
1762 6487
1832 6487
1902 6487
1972 6487
2042 6487
2112 6487
2182 6487
2252 6487
2322 6487
2392 6487
2462 6487
2532 6487
2600 6487
2628 6487
2700 6487
2770 6487
2880 6487
2920 6487
2990 6487
3060 6487
3130 6487
3240 6487
3268 6487
3338 6487
3408 6487
3478 6487
3548 6487
3618 6487
3688 6487
3758 6487
3828 6487
3898 6487
3968 6487
4038 6487
4108 6487
4178 6487
4248 6487
4318 6487
4388 6487
4458 6487
4528 6487
4598 6487
4676 6487
4724 6487
4794 6487
4864 6487
4934 6487
5004 6487
5074 6487
5144 6487
5214 6487
5284 6487
5354 6487
5424 6487
5494 6487
5564 6487
5634 6487
5704 6487
5774 6487
5844 6487
5914 6487
5984 6487
6054 6487
6124 6487
6194 6487
6264 6487
6334 6487
6404 6487
6474 6487
6544 6487
6614 6487
6684 6487
6756 6487
6826 6487
6896 6487
6966 6487
7036 6487
7106 6487
7188 6487
7216 6487
7286 6487
7356 6487
7426 6487
7548 6487
7600 6487
7648 6487
7718 6487
7788 6487
7858 6487
7928 6487
7998 6487
8068 6487
8138 6487
8208 6487
8278 6487
8348 6487
8418 6487
8488 6487
8548 6487
8576 6487
8640 6487
8710 6487
8780 6487
8850 6487
8920 6487
8990 6487
9060 6487
9130 6487
9200 6487
9288 6487
9360 6487
9430 6487
9500 6487
9568 6487
9600 6487
9670 6487
9740 6487
9810 6487
9850 6487
0 6486
70 6486
140 6486
210 6486
280 6486
350 6486
420 6486
440 6486
510 6486
620 6486
672 6486
742 6486
812 6486
882 6486
980 6486
1028 6486
1120 6486
1160 6486
1230 6486
1300 6486
1400 6486
1440 6486
1510 6486
1580 6486
1640 6486
1668 6486
1738 6486
1808 6486
1878 6486
2000 6486
2048 6486
2108 6486
2178 6486
2248 6486
2318 6486
2388 6486
2458 6486
2528 6486
2598 6486
2668 6486
2738 6486
2808 6486
2878 6486
2948 6486
3018 6486
3100 6486
3132 6486
3220 6486
3276 6486
3346 6486
3464 6486
3496 6486
3566 6486
3636 6486
3706 6486
3776 6486
3884 6486
3964 6486
4076 6486
4144 6486
4214 6486
4324 6486
4348 6486
4436 6486
4476 6486
4546 6486
4616 6486
4686 6486
4756 6486
4826 6486
4896 6486
4966 6486
5056 6486
5084 6486
5154 6486
5224 6486
5294 6486
5364 6486
5434 6486
5524 6486
5588 6486
5658 6486
5756 6486
5804 6486
5874 6486
5944 6486
6056 6486
6088 6486
6158 6486
6228 6486
6298 6486
6368 6486
6438 6486
6508 6486
6578 6486
6648 6486
6718 6486
6788 6486
6858 6486
6928 6486
6998 6486
7108 6486
7168 6486
7228 6486
7298 6486
7368 6486
7438 6486
7508 6486
7600 6486
7700 6486
7770 6486
7840 6486
7910 6486
7988 6486
8028 6486
8098 6486
8168 6486
8280 6486
8348 6486
8476 6486
8528 6486
8600 6486
8708 6486
8756 6486
8826 6486
8896 6486
8966 6486
9088 6486
9116 6486
9186 6486
9256 6486
9326 6486
9408 6486
9596 6486
9708 6486
9778 6486
9840 6486
};
\addlegendentry{\shortstack[l]{Samples\\{\itshape μ} = 6491.95, {\itshape σ} = 6.18}}
\end{axis}
\end{tikzpicture}
\end{document}
